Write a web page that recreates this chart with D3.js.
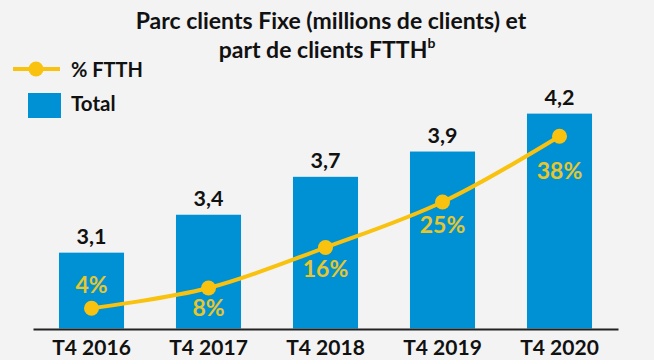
<!DOCTYPE html>
<html><head><meta charset="utf-8">
<script src="https://cdn.jsdelivr.net/npm/d3@7"></script>
<style>
html,body{margin:0;padding:0;background:#f3f3f3;}
svg{display:block;}
text{font-family:Lato,"Open Sans",sans-serif;font-weight:700;}
</style></head>
<body>
<svg id="chart" width="654" height="360"></svg>
<script>
const categories = ["T4 2016","T4 2017","T4 2018","T4 2019","T4 2020"];
const totals = [3.1, 3.4, 3.7, 3.9, 4.2];
const totalLabels = ["3,1","3,4","3,7","3,9","4,2"];
const ftth = [4, 8, 16, 25, 38];
const titleLines = ["Parc clients Fixe (millions de clients) et", "part de clients FTTH"];
const legendItems = ["% FTTH", "Total"];

(function(){
const W = 654, H = 360;
const blue = "#0091d5", yellow = "#f9c20f", pctText = "#e6c62c";
const svg = d3.select("#chart");
svg.append("rect").attr("width", W).attr("height", H).attr("fill", "#f3f3f3");

const plotBottom = 328.5, plotTop = 80;
const x = d3.scaleBand().domain(categories).range([33, 618]).paddingInner(0.444).paddingOuter(0.222);
const yBar = d3.scaleLinear().domain([2.5, 2.5 + (plotBottom - plotTop) / 126.4]).range([plotBottom, plotTop]);
const yPct = d3.scaleLinear().domain([0, (plotBottom - plotTop) / 5.06]).range([plotBottom, plotTop]);

svg.selectAll("rect.bar").data(categories).enter().append("rect")
  .attr("class", "bar")
  .attr("x", d => x(d))
  .attr("width", x.bandwidth())
  .attr("y", (d, i) => yBar(totals[i]))
  .attr("height", (d, i) => yBar.range()[0] - yBar(totals[i]))
  .attr("fill", blue);

svg.selectAll("text.val").data(categories).enter().append("text")
  .attr("class", "val")
  .attr("x", d => x(d) + x.bandwidth() / 2)
  .attr("y", (d, i) => yBar(totals[i]) - 9)
  .attr("text-anchor", "middle")
  .attr("font-size", 21.5)
  .attr("fill", "#111")
  .text((d, i) => totalLabels[i]);

const xAxis = d3.axisBottom(x).tickSize(0).tickPadding(11);
const gx = svg.append("g").attr("transform", `translate(0,${plotBottom + 0.5})`).call(xAxis);
gx.select(".domain").attr("stroke", "#222").attr("stroke-width", 2);
gx.selectAll("text").attr("font-size", 21).attr("fill", "#111")
  .style("font-family", "Lato,'Open Sans',sans-serif").style("font-weight", 700);

const cx = d => x(d) + x.bandwidth() / 2;
const line = d3.line()
  .x((d, i) => cx(categories[i]))
  .y(d => yPct(d))
  .curve(d3.curveCatmullRom.alpha(0.5));
svg.append("path").datum(ftth)
  .attr("d", line)
  .attr("fill", "none")
  .attr("stroke", yellow)
  .attr("stroke-width", 4);
svg.selectAll("circle.pt").data(ftth).enter().append("circle")
  .attr("class", "pt")
  .attr("cx", (d, i) => cx(categories[i]))
  .attr("cy", d => yPct(d))
  .attr("r", 7.5)
  .attr("fill", yellow);

const pctOffsets = [-15, 28, 29, 31, 43];
svg.selectAll("text.pct").data(ftth).enter().append("text")
  .attr("class", "pct")
  .attr("x", (d, i) => cx(categories[i]))
  .attr("y", (d, i) => yPct(d) + pctOffsets[i])
  .attr("text-anchor", "middle")
  .attr("font-size", 23)
  .attr("fill", pctText)
  .text(d => d + "%");

svg.append("text").attr("x", 331).attr("y", 29).attr("text-anchor", "middle")
  .attr("font-size", 23).attr("fill", "#111").text(titleLines[0]);
const t2 = svg.append("text").attr("x", 327).attr("y", 58).attr("text-anchor", "middle")
  .attr("font-size", 23).attr("fill", "#111");
t2.append("tspan").text(titleLines[1]);
t2.append("tspan").attr("font-size", 14).attr("dy", -10).text("b");

const lg = svg.append("g");
lg.append("line").attr("x1", 13).attr("x2", 60).attr("y1", 69).attr("y2", 69)
  .attr("stroke", yellow).attr("stroke-width", 4);
lg.append("circle").attr("cx", 36).attr("cy", 69).attr("r", 7.5).attr("fill", yellow);
lg.append("text").attr("x", 71).attr("y", 77).attr("font-size", 20).attr("fill", "#111").text(legendItems[0]);
lg.append("rect").attr("x", 28).attr("y", 93).attr("width", 33).attr("height", 25).attr("fill", blue);
lg.append("text").attr("x", 71).attr("y", 111).attr("font-size", 20.5).attr("fill", "#111").text(legendItems[1]);
})();
</script>
</body></html>
